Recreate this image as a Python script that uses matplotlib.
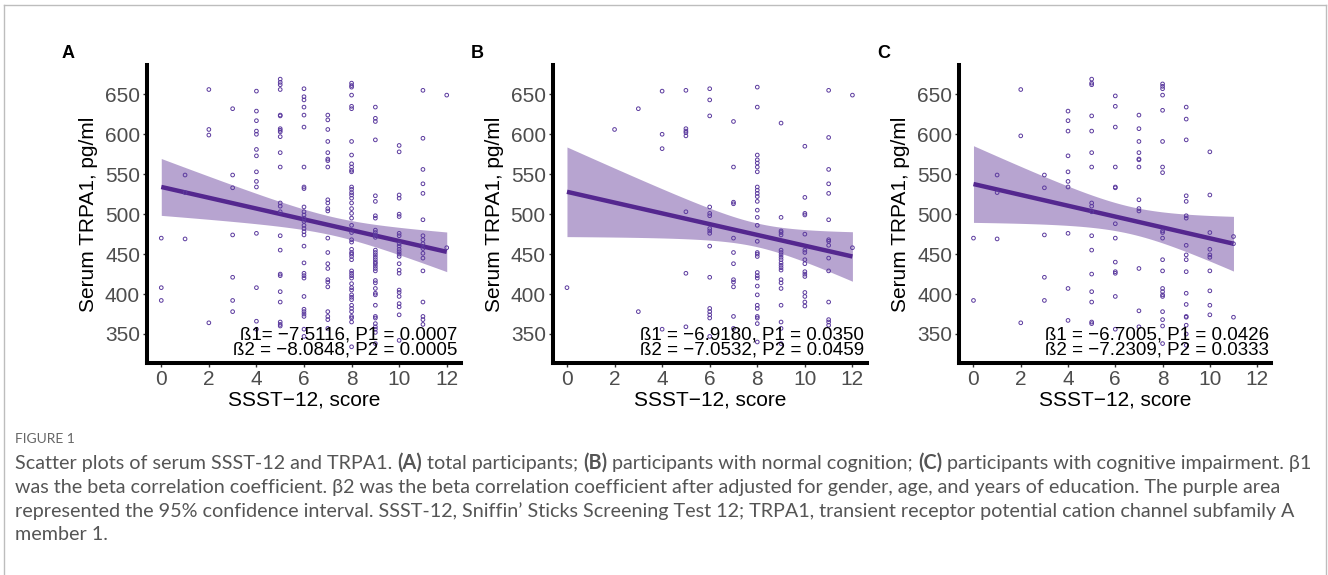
import numpy as np
import matplotlib
matplotlib.use("Agg")
import matplotlib.pyplot as plt
from matplotlib.lines import Line2D

plt.rcParams['font.family'] = ['Liberation Sans', 'DejaVu Sans']

# SSST-12 score (x) and serum TRPA1 values read for each score, per panel
scores = list(range(13))

# (A) total participants
a_trpa1 = [
    [470, 408, 392],
    [549, 527, 469],
    [656, 606, 599, 364],
    [632, 549, 533, 474, 421, 392, 378],
    [654, 629, 617, 604, 600, 581, 573, 553, 541, 534, 476, 408, 366, 356],
    [669, 665, 662, 656, 624, 623, 607, 605, 603, 597, 577, 559, 514, 510, 503,
     473, 455, 425, 423, 403, 390, 365, 362, 360],
    [657, 647, 643, 634, 624, 609, 559, 534, 532, 509, 503, 499, 495, 491, 486,
     482, 478, 474, 460, 439, 426, 423, 420, 397, 381, 378, 375, 372, 356, 347],
    [624, 618, 606, 591, 577, 569, 567, 559, 518, 514, 507, 504, 470, 452, 438,
     432, 418, 415, 409, 378, 372, 368, 357],
    [664, 661, 659, 649, 635, 632, 591, 574, 563, 559, 555, 553, 534, 531, 527,
     524, 520, 514, 507, 501, 495, 486, 477, 468, 465, 456, 452, 450, 447, 443,
     429, 426, 423, 420, 413, 408, 405, 399, 396, 393, 386, 382, 378, 372, 370, 365, 334],
    [634, 620, 616, 593, 523, 516, 498, 495, 480, 477, 474, 471, 455, 452, 449,
     446, 443, 440, 438, 435, 432, 429, 417, 414, 407, 401, 399, 386, 372, 370,
     363, 359, 356, 352, 338],
    [586, 578, 524, 520, 500, 497, 476, 473, 463, 460, 456, 453, 450, 447, 438,
     430, 426, 405, 402, 397, 388, 384, 374, 342],
    [655, 595, 556, 538, 526, 493, 473, 468, 463, 457, 451, 445, 429, 390, 372, 368, 362],
    [649, 458],
]

# (B) participants with normal cognition
b_trpa1 = [
    [408],
    [],
    [606],
    [632, 378],
    [654, 600, 582, 356],
    [655, 607, 604, 602, 598, 503, 426, 359],
    [657, 643, 623, 509, 501, 498, 482, 479, 476, 460, 421, 382, 378, 374, 370, 347],
    [616, 559, 515, 513, 470, 452, 438, 418, 415, 409, 372, 357],
    [659, 634, 574, 568, 564, 559, 553, 534, 530, 526, 522, 516, 505, 496, 486,
     466, 452, 450, 447, 427, 423, 420, 410, 399, 386, 382, 372, 370, 363, 340],
    [614, 496, 479, 477, 474, 455, 452, 449, 446, 443, 439, 436, 433, 430, 418,
     414, 407, 386, 365, 357, 338],
    [585, 521, 501, 499, 475, 455, 452, 443, 438, 428, 425, 422, 402, 397, 390, 385],
    [655, 596, 556, 538, 526, 493, 468, 466, 461, 445, 429, 390, 368, 365, 361],
    [649, 458],
]

# (C) participants with cognitive impairment
c_trpa1 = [
    [470, 392],
    [549, 527, 469],
    [656, 598, 364],
    [549, 533, 474, 421, 392],
    [629, 617, 604, 573, 553, 541, 534, 476, 407, 367],
    [669, 664, 662, 623, 604, 577, 559, 514, 510, 503, 473, 455, 425, 403, 390, 365, 363],
    [648, 635, 609, 559, 534, 533, 488, 470, 440, 428, 426, 397, 356],
    [624, 607, 591, 577, 569, 568, 559, 518, 507, 504, 432, 379, 359],
    [663, 660, 657, 649, 630, 591, 559, 552, 479, 477, 470, 443, 429, 407, 403,
     399, 397, 378, 368, 360, 338],
    [634, 619, 593, 523, 516, 498, 495, 461, 449, 443, 428, 401, 387, 372, 371, 361, 350, 336],
    [578, 524, 477, 456, 449, 446, 429, 404, 386, 374],
    [472, 463, 371],
    [],
]

panel_letters = ["A", "B", "C"]
beta_text = [
    ["ß1= −7.5116, P1 = 0.0007", "ß2 = −8.0848, P2 = 0.0005"],
    ["ß1 = −6.9180, P1 = 0.0350", "ß2 = −7.0532, P2 = 0.0459"],
    ["ß1 = −6.7005, P1 = 0.0426", "ß2 = −7.2309, P2 = 0.0333"],
]
xticks = [0, 2, 4, 6, 8, 10, 12]
yticks = [350, 400, 450, 500, 550, 600, 650]

caption_title = "FIGURE 1"
caption_lines = [
    [("Scatter plots of serum SSST-12 and TRPA1. ", False), ("(A)", True),
     (" total participants; ", False), ("(B)", True),
     (" participants with normal cognition; ", False), ("(C)", True),
     (" participants with cognitive impairment. β1", False)],
    [("was the beta correlation coefficient. β2 was the beta correlation coefficient "
      "after adjusted for gender, age, and years of education. The purple area", False)],
    [("represented the 95% confidence interval. SSST-12, Sniffin’ Sticks Screening Test 12; "
      "TRPA1, transient receptor potential cation channel subfamily A", False)],
    [("member 1.", False)],
]

LINE_C = "#54278F"
PT_C = "#5B3A9E"

W, H = 1328, 575


def flatten(groups):
    xs, ys = [], []
    for s, vals in zip(scores, groups):
        xs += [s] * len(vals)
        ys += vals
    return np.array(xs, float), np.array(ys, float)


def fit_band(x, y, t=1.97):
    n = len(x)
    b, a = np.polyfit(x, y, 1)
    xs = np.linspace(x.min(), x.max(), 80)
    resid = y - (a + b * x)
    s = np.sqrt(np.sum(resid ** 2) / (n - 2))
    sxx = np.sum((x - x.mean()) ** 2)
    se = s * np.sqrt(1 / n + (xs - x.mean()) ** 2 / sxx)
    fit = a + b * xs
    return xs, fit, fit - t * se, fit + t * se


fig = plt.figure(figsize=(W / 100, H / 100), dpi=100)

# light gray frame around the figure (open at the bottom)
fig.add_artist(Line2D([4 / W, 4 / W], [0, 1 - 5 / H], color="#BDBDBD", lw=1))
fig.add_artist(Line2D([4 / W, 1326 / W], [1 - 5 / H, 1 - 5 / H], color="#BDBDBD", lw=1))
fig.add_artist(Line2D([1326 / W, 1326 / W], [0, 1 - 5 / H], color="#BDBDBD", lw=1))

lefts = [147, 552.7, 959.3]
widths = [314, 314, 312]
letter_x = [68, 477, 884]
text_x = [12.45, 12.5, 12.5]

for i, groups in enumerate([a_trpa1, b_trpa1, c_trpa1]):
    ax = fig.add_axes([lefts[i] / W, 1 - 363 / H, widths[i] / W, 298 / H])
    x, y = flatten(groups)
    xs, fit, lo, hi = fit_band(x, y)
    ax.fill_between(xs, lo, hi, color=LINE_C, alpha=0.42, lw=0, zorder=1)
    ax.plot(xs, fit, color=LINE_C, lw=3.2, solid_capstyle="butt", zorder=2)
    ax.scatter(x, y, s=7, facecolors="none", edgecolors=PT_C, linewidths=0.7, zorder=3)

    ax.set_xlim(-0.6, 12.6)
    ax.set_ylim(313.7, 686.7)
    ax.set_xticks(xticks)
    ax.set_yticks(yticks)
    for side in ["top", "right"]:
        ax.spines[side].set_visible(False)
    for side in ["left", "bottom"]:
        ax.spines[side].set_linewidth(2.9)
        ax.spines[side].set_color("black")
    ax.tick_params(length=3, width=1, color="#333333", labelcolor="#4D4D4D",
                   labelsize=15, pad=2)
    ax.set_xlabel("SSST−12, score", fontsize=15, labelpad=1)
    ax.set_ylabel("Serum TRPA1, pg/ml", fontsize=15, labelpad=5)

    ax.text(text_x[i], 348.5, beta_text[i][0], ha="right", va="center", fontsize=13.5, zorder=4)
    ax.text(text_x[i], 330, beta_text[i][1], ha="right", va="center", fontsize=13.5, zorder=4)

    fig.text(letter_x[i] / W, 1 - 53 / H, panel_letters[i], ha="center", va="center",
             fontsize=13, fontweight="bold")

# caption
cap_font = ["Lato", "DejaVu Sans"]
fig.text(15 / W, 1 - 439 / H, caption_title, fontsize=10, color="#666666",
         family=cap_font, va="center")

renderer = fig.canvas.get_renderer()


def draw_line(pieces, y_px, size):
    x_px = 15
    for txt, bold in pieces:
        t = fig.text(x_px / W, 1 - y_px / H, txt, fontsize=size, color="#555555",
                     family=cap_font, va="center",
                     fontweight="bold" if bold else "normal")
        x_px += t.get_window_extent(renderer).width
    return x_px


# pick a size so the first caption line ends where it does in the figure
probe = fig.text(0, 0, "".join(p[0] for p in caption_lines[0]), fontsize=12, family=cap_font)
w0 = probe.get_window_extent(renderer).width
probe.remove()
cap_size = 12 * (1290 / w0)

for k, pieces in enumerate(caption_lines):
    draw_line(pieces, 463 + 24 * k, cap_size)

fig.savefig("out.png", dpi=100)
